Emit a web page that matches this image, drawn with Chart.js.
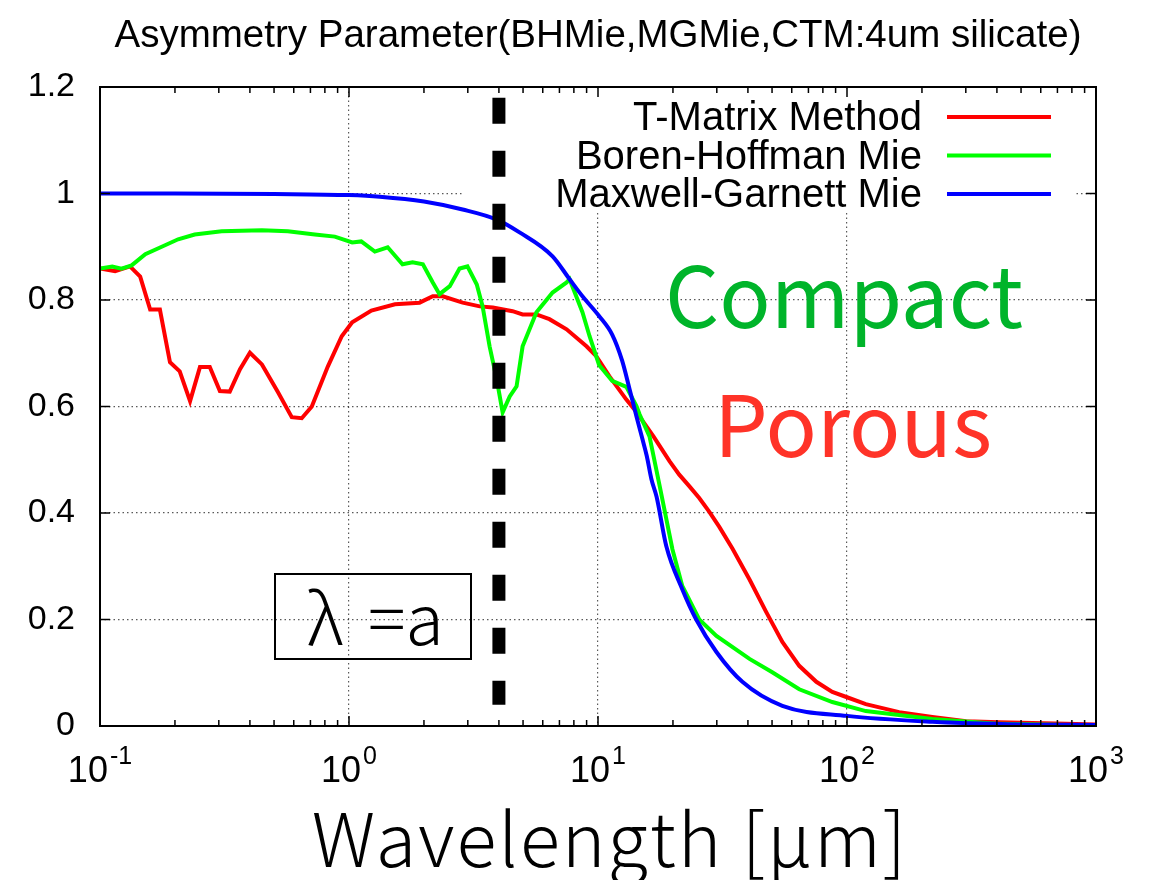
<!DOCTYPE html>
<html lang="en">
<head>
    <meta charset="UTF-8">
    <title>Asymmetry Parameter</title>
    <script src="https://cdn.jsdelivr.net/npm/chart.js@4.4.1/dist/chart.umd.min.js"></script>
    <style>
        body { margin: 0; background: #fff; }
        canvas { display: block; }
    </style>
</head>
<body>
    <canvas id="asymChart" width="1157" height="880"></canvas>

    <script>
        // T-Matrix Method (porous aggregate)
        const tmatWave = [0.1, 0.115, 0.132, 0.145, 0.159, 0.174, 0.191, 0.209, 0.23, 0.252, 0.276, 0.303, 0.332, 0.365, 0.4, 0.447, 0.518, 0.589, 0.646, 0.709, 0.822, 0.935, 1.03, 1.23, 1.53, 1.92, 2.17, 2.38, 2.86, 3.35, 3.78, 4.54, 4.98, 5.66, 6.38, 7.48, 8.99, 9.86, 11.1, 13.0, 14.3, 16.7, 19.4, 21.2, 23.3, 25.5, 28.0, 30.7, 34.7, 40.6, 47.4, 55, 64.3, 75.3, 87.3, 100, 119, 162, 220, 301, 408, 759, 1000];
        const tmatG = [0.859, 0.854, 0.863, 0.844, 0.782, 0.782, 0.683, 0.666, 0.610, 0.674, 0.674, 0.629, 0.628, 0.670, 0.701, 0.679, 0.627, 0.580, 0.578, 0.600, 0.675, 0.732, 0.758, 0.780, 0.792, 0.795, 0.807, 0.807, 0.795, 0.788, 0.786, 0.779, 0.773, 0.773, 0.764, 0.745, 0.713, 0.694, 0.657, 0.613, 0.589, 0.544, 0.497, 0.472, 0.450, 0.428, 0.402, 0.374, 0.333, 0.275, 0.214, 0.158, 0.113, 0.083, 0.064, 0.054, 0.041, 0.026, 0.017, 0.009, 0.007, 0.004, 0.003];

        // Boren-Hoffman Mie (compact sphere)
        const bhWave = [0.1, 0.112, 0.122, 0.134, 0.152, 0.177, 0.206, 0.24, 0.308, 0.447, 0.568, 0.729, 0.877, 1.03, 1.12, 1.27, 1.43, 1.64, 1.8, 1.98, 2.17, 2.31, 2.54, 2.78, 2.99, 3.26, 3.44, 3.67, 3.92, 4.14, 4.42, 4.71, 4.98, 5.66, 6.57, 7.48, 7.69, 8.66, 9.25, 10.1, 11.4, 13.0, 14.3, 14.7, 16.1, 17.7, 19.9, 21.8, 25.5, 29.9, 40.6, 50.1, 64.3, 87.3, 119, 220, 408, 1000];
        const bhG = [0.859, 0.863, 0.859, 0.865, 0.886, 0.900, 0.914, 0.923, 0.929, 0.931, 0.929, 0.923, 0.919, 0.908, 0.910, 0.891, 0.899, 0.867, 0.871, 0.867, 0.833, 0.811, 0.826, 0.859, 0.863, 0.829, 0.788, 0.713, 0.651, 0.589, 0.619, 0.638, 0.713, 0.777, 0.814, 0.833, 0.839, 0.777, 0.732, 0.678, 0.648, 0.637, 0.600, 0.585, 0.544, 0.450, 0.332, 0.263, 0.200, 0.169, 0.126, 0.101, 0.069, 0.045, 0.028, 0.013, 0.004, 0.001];

        // Maxwell-Garnett Mie
        const mgWave = [0.1, 0.2, 0.5, 1, 1.33, 2, 2.86, 3.92, 4.84, 6.57, 7.69, 8.66, 10.1, 11.4, 12.5, 13.4, 14.3, 15.1, 15.7, 16.4, 17.2, 18.8, 21.8, 24.8, 29.9, 38, 55, 100, 220, 500, 1000];
        const mgG = [1.0, 1.0, 0.999, 0.997, 0.994, 0.985, 0.970, 0.951, 0.927, 0.882, 0.839, 0.807, 0.770, 0.735, 0.686, 0.632, 0.580, 0.538, 0.507, 0.463, 0.430, 0.338, 0.257, 0.200, 0.139, 0.083, 0.038, 0.019, 0.008, 0.003, 0.002];

        // λ = a marker (a = 4 um)
        const grainSize = 4;
        const markerRange = [1.18, 0.04];

        const xTickExps = [-1, 0, 1, 2, 3];
        const yTicks = [0, 0.2, 0.4, 0.6, 0.8, 1, 1.2];
        const yTickLabels = ['0', '0.2', '0.4', '0.6', '0.8', '1', '1.2'];
        const legendLabels = ['T-Matrix Method', 'Boren-Hoffman Mie', 'Maxwell-Garnett Mie'];
        const legendColors = ['#ff0000', '#00ff00', '#0000ff'];

        const toPoints = (xs, ys) => xs.map((x, i) => ({ x: x, y: ys[i] }));
        const isDecade = v => Math.abs(Math.log10(v) - Math.round(Math.log10(v))) < 1e-6;
        const gridColor = 'rgba(0,0,0,0.65)';
        const sans = '"Liberation Sans", Arial, sans-serif';
        const jp = '"Noto Sans CJK JP", "Noto Sans", sans-serif';

        const overlay = {
            id: 'overlay',
            beforeDatasetsDraw(chart) {
                // opaque key box over the grid
                const ctx = chart.ctx;
                ctx.save();
                ctx.fillStyle = '#fff';
                ctx.fillRect(462, 89, 612, 124);
                ctx.restore();
            },
            afterDraw(chart) {
                const ctx = chart.ctx;
                const area = chart.chartArea;
                const xs = chart.scales.x;
                const ys = chart.scales.y;
                ctx.save();

                // frame
                ctx.strokeStyle = '#000';
                ctx.lineWidth = 2;
                ctx.strokeRect(area.left, area.top, area.right - area.left, area.bottom - area.top);

                // x ticks (inward, top and bottom)
                ctx.lineWidth = 1.5;
                for (let e = -1; e < 3; e++) {
                    for (let m = 1; m <= 9; m++) {
                        const px = xs.getPixelForValue(m * Math.pow(10, e));
                        const len = m === 1 ? 10 : 6;
                        ctx.beginPath();
                        ctx.moveTo(px, area.bottom); ctx.lineTo(px, area.bottom - len);
                        ctx.moveTo(px, area.top); ctx.lineTo(px, area.top + len);
                        ctx.stroke();
                    }
                }
                // y ticks (inward, left and right)
                yTicks.forEach(v => {
                    const py = ys.getPixelForValue(v);
                    ctx.beginPath();
                    ctx.moveTo(area.left, py); ctx.lineTo(area.left + 10, py);
                    ctx.moveTo(area.right, py); ctx.lineTo(area.right - 10, py);
                    ctx.stroke();
                });

                // y tick labels
                ctx.fillStyle = '#000';
                ctx.font = '34px ' + sans;
                ctx.textAlign = 'right';
                ctx.textBaseline = 'middle';
                yTicks.forEach((v, i) => {
                    ctx.fillText(yTickLabels[i], area.left - 25, ys.getPixelForValue(v));
                });

                // x tick labels 10^n
                ctx.textBaseline = 'alphabetic';
                ctx.textAlign = 'left';
                xTickExps.forEach(e => {
                    const px = xs.getPixelForValue(Math.pow(10, e));
                    const sup = String(e);
                    ctx.font = '36px ' + sans;
                    const wBase = ctx.measureText('10').width;
                    ctx.font = '25px ' + sans;
                    const wSup = ctx.measureText(sup).width;
                    const x0 = px - (wBase + wSup + 2) / 2;
                    ctx.font = '36px ' + sans;
                    ctx.fillText('10', x0, 782);
                    ctx.font = '25px ' + sans;
                    ctx.fillText(sup, x0 + wBase + 2, 764);
                });

                // title
                ctx.textAlign = 'center';
                ctx.font = '38.5px ' + sans;
                ctx.fillText('Asymmetry Parameter(BHMie,MGMie,CTM:4um silicate)', 598, 47);

                // legend
                ctx.textAlign = 'right';
                ctx.font = '40px ' + sans;
                legendLabels.forEach((lab, i) => {
                    const cy = 117 + i * 38.5;
                    ctx.fillStyle = '#000';
                    ctx.fillText(lab, 922, cy + 13);
                    ctx.strokeStyle = legendColors[i];
                    ctx.lineWidth = 4;
                    ctx.beginPath();
                    ctx.moveTo(947, cy); ctx.lineTo(1051, cy);
                    ctx.stroke();
                });

                // annotations
                ctx.textAlign = 'left';
                ctx.font = '400 85px ' + jp;
                ctx.fillStyle = '#00b42a';
                ctx.fillText('Compact', 665, 328);
                ctx.fillStyle = '#ff3328';
                ctx.fillText('Porous', 714, 457);

                // λ = a box
                ctx.fillStyle = '#000';
                ctx.strokeStyle = '#000';
                ctx.lineWidth = 2;
                ctx.strokeRect(275, 574, 196, 85);
                ctx.font = '300 70px ' + jp;
                ctx.fillText('λ', 307, 645);
                ctx.fillText('=a', 368, 645);

                // axis title
                ctx.textAlign = 'center';
                ctx.font = '300 74px ' + jp;
                ctx.letterSpacing = '2px';
                ctx.fillText('Wavelength [μm]', 610, 867);
                ctx.letterSpacing = '0px';

                ctx.restore();
            }
        };

        new Chart(document.getElementById('asymChart'), {
            type: 'scatter',
            data: {
                datasets: [
                    {
                        label: 'lambda = a',
                        data: [{ x: grainSize, y: markerRange[0] }, { x: grainSize, y: markerRange[1] }],
                        showLine: true,
                        borderColor: '#000',
                        borderWidth: 13,
                        borderDash: [26, 27],
                        borderCapStyle: 'butt',
                        pointRadius: 0
                    },
                    {
                        label: legendLabels[2],
                        data: toPoints(mgWave, mgG),
                        showLine: true,
                        borderColor: '#0000ff',
                        borderWidth: 4,
                        cubicInterpolationMode: 'monotone',
                        pointRadius: 0
                    },
                    {
                        label: legendLabels[1],
                        data: toPoints(bhWave, bhG),
                        showLine: true,
                        borderColor: '#00ff00',
                        borderWidth: 4,
                        tension: 0,
                        pointRadius: 0
                    },
                    {
                        label: legendLabels[0],
                        data: toPoints(tmatWave, tmatG),
                        showLine: true,
                        borderColor: '#ff0000',
                        borderWidth: 4,
                        tension: 0,
                        pointRadius: 0
                    }
                ]
            },
            options: {
                responsive: false,
                animation: false,
                layout: { padding: { left: 100, right: 61, top: 87, bottom: 154 } },
                plugins: {
                    legend: { display: false },
                    title: { display: false },
                    tooltip: { enabled: false }
                },
                scales: {
                    x: {
                        type: 'logarithmic',
                        min: 0.1,
                        max: 1000,
                        ticks: { display: false },
                        border: { display: false, dash: [1.5, 3] },
                        grid: {
                            drawTicks: false,
                            lineWidth: 1.2,
                            color: ctx => (ctx.tick && isDecade(ctx.tick.value)) ? gridColor : 'rgba(0,0,0,0)'
                        }
                    },
                    y: {
                        min: 0,
                        max: 1.2,
                        ticks: { display: false, stepSize: 0.2 },
                        border: { display: false, dash: [1.5, 3] },
                        grid: { drawTicks: false, lineWidth: 1.2, color: gridColor }
                    }
                }
            },
            plugins: [overlay]
        });
    </script>
</body>
</html>
